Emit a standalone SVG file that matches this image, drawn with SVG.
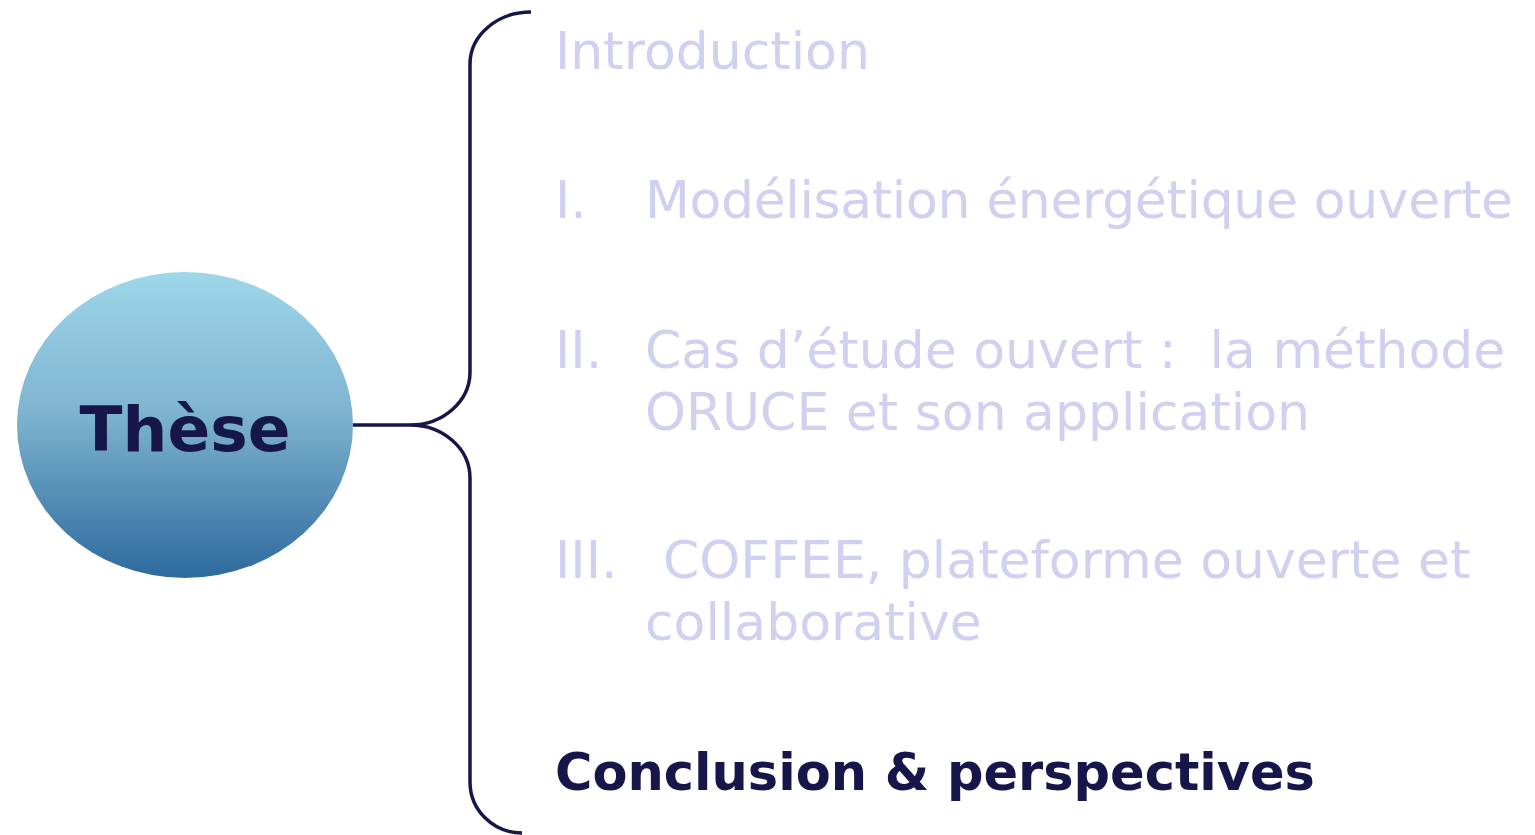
<svg xmlns="http://www.w3.org/2000/svg" width="1535" height="835" viewBox="0 0 1535 835">
<style>
.t{font-family:"DejaVu Sans",Verdana,sans-serif;font-size:52px;fill:#D0D0F0}
.b{font-family:"DejaVu Sans",Verdana,sans-serif;font-size:51px;font-weight:bold;fill:#16164A}
.c{fill:none;stroke:#16164A;stroke-width:3.5}
</style>
<defs>
<linearGradient id="g" x1="0" y1="0" x2="0" y2="1">
<stop offset="0" stop-color="#9ED6EA"/>
<stop offset="0.45" stop-color="#7FB5D0"/>
<stop offset="1" stop-color="#2D6A9D"/>
</linearGradient>
</defs>
<g id="connectors">
<path class="c" d="M353,425 L410,425"/>
<path class="c" d="M531,12 A61,52 0 0 0 470,64 L470,372 A60,53 0 0 1 410,425 A60,53 0 0 1 470,478 L470,782 A52,51 0 0 0 522,833"/>
</g>
<g id="these">
<ellipse cx="185" cy="425" rx="168" ry="153" fill="url(#g)"/>
<text x="185" y="451" text-anchor="middle" style="font-family:'DejaVu Sans',Verdana,sans-serif;font-size:63px;font-weight:bold;fill:#16164A">Thèse</text>
</g>
<g id="intro"><text class="t" x="555" y="69">Introduction</text></g>
<g id="part1"><text class="t" x="555" y="218">I.</text><text class="t" x="645" y="218" textLength="868">Modélisation énergétique ouverte</text></g>
<g id="part2"><text class="t" x="555" y="368">II.</text><text class="t" x="645" y="368" xml:space="preserve">Cas d’étude ouvert :  la méthode</text><text class="t" x="645" y="430">ORUCE et son application</text></g>
<g id="part3"><text class="t" x="555" y="578">III.</text><text class="t" x="663" y="578">COFFEE, plateforme ouverte et</text><text class="t" x="645" y="640">collaborative</text></g>
<g id="conclusion"><text class="b" x="555" y="790">Conclusion &amp; perspectives</text></g>
</svg>
